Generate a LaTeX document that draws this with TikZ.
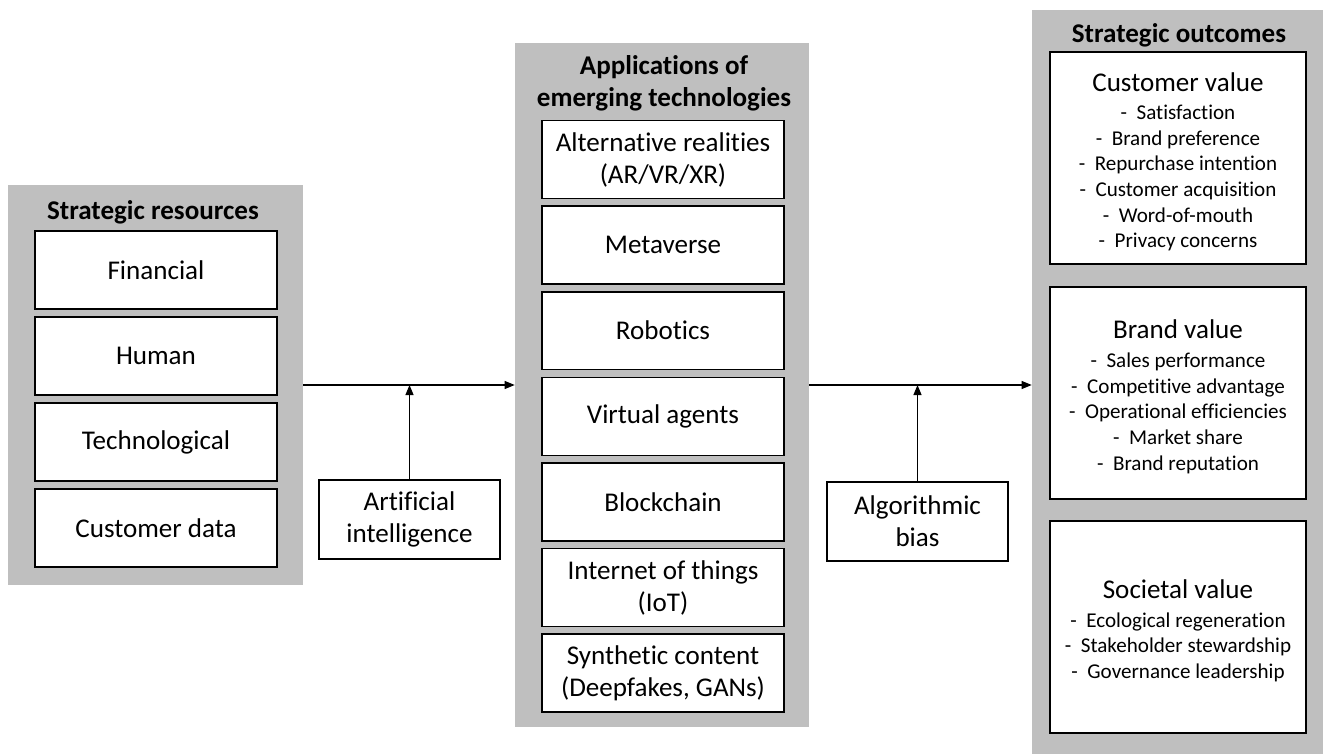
\documentclass[tikz,border=0pt]{standalone}
\usepackage{fontspec}
\setmainfont{Carlito}[Ligatures={NoCommon,NoContextual}]
\usetikzlibrary{arrows.meta,positioning}
\definecolor{panelgray}{RGB}{191,191,191}
\newcommand{\valtitle}[1]{{\fontsize{15.4}{18.2}\selectfont\rule{0pt}{15pt}#1}\\[1.6pt]}

\begin{document}
\begin{tikzpicture}[x=0.02cm, y=-0.02cm,
  panel/.style={fill=panelgray, inner sep=0pt},
  hd/.style={font=\fontsize{15.4}{18.2}\selectfont\bfseries, align=center, inner sep=0pt},
  bx/.style={draw, fill=white, line width=0.9pt, align=center, inner sep=0pt,
             minimum width=4.84cm, minimum height=1.56cm,
             font=\fontsize{15.4}{18.2}\selectfont},
  mod/.style={bx, minimum width=3.62cm, minimum height=1.58cm},
  val/.style={bx, minimum width=5.12cm, minimum height=4.24cm,
              font=\fontsize{12}{14.6}\selectfont},
  fl/.style={-{Triangle[length=2mm, width=1.6mm]}, line width=0.6pt}]
\useasboundingbox (0,0) rectangle (1323,754);

% grey panels
\node[panel, minimum width=5.9cm, minimum height=8cm] (res) at (155.5,385) {};
\node[panel, minimum width=5.88cm, minimum height=13.68cm] (apps) at (662,385) {};
\node[panel, minimum width=5.82cm, minimum height=14.88cm] (out) at (1177.5,382) {};

% strategic resources
\node[hd] (reshd) at (153,212) {Strategic resources};
\foreach \lab [count=\i from 0] in {Financial, Human, Technological, Customer data}
  \node[bx] (res\i) at (156, 270+86*\i) {\lab};

% applications of emerging technologies
\node[hd] (appshd) at (664,83) {Applications of\\emerging technologies};
\foreach \lab [count=\i from 0] in {{Alternative realities\\(AR/VR/XR)}, Metaverse,
    Robotics, Virtual agents, Blockchain, {Internet of things\\(IoT)},
    {Synthetic content\\(Deepfakes, GANs)}}
  \node[bx] (app\i) at (663, 159.5+85.6*\i) {\lab};

% strategic outcomes
\node[hd] (outhd) at (1179,35) {Strategic outcomes};
\node[val] (cv) at (1178,158) {\valtitle{Customer value}
  -\ \ Satisfaction\\ -\ \ Brand preference\\ -\ \ Repurchase intention\\
  -\ \ Customer acquisition\\ -\ \ Word-of-mouth\\ -\ \ Privacy concerns};
\node[val] (bv) at (1178,393) {\valtitle{Brand value}
  -\ \ Sales performance\\ -\ \ Competitive advantage\\ -\ \ Operational efficiencies\\
  -\ \ Market share\\ -\ \ Brand reputation};
\node[val] (sv) at (1178,627) {\valtitle{Societal value}
  -\ \ Ecological regeneration\\ -\ \ Stakeholder stewardship\\ -\ \ Governance leadership};

% moderators
\node[mod] (ai) at (409.5,519.5) {Artificial\\intelligence};
\node[mod] (bias) at (917.5,521.5) {Algorithmic\\bias};

% connectors
\draw[fl] (res.east) -- (apps.west);
\draw[fl] (ai.north) -- (ai.north |- res.east);
\draw[fl] (apps.east) -- (apps.east -| out.west);
\draw[fl] (bias.north) -- (bias.north |- apps.east);
\end{tikzpicture}
\end{document}
